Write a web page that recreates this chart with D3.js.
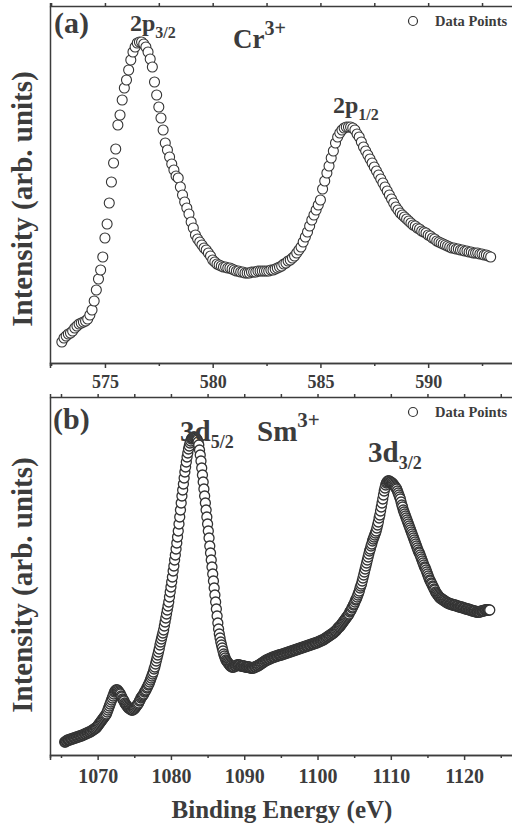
<!DOCTYPE html>
<html><head><meta charset="utf-8">
<script src="https://cdn.jsdelivr.net/npm/d3@7"></script>
<style>
body{margin:0;background:#fff}
svg{display:block}
text{font-family:"Liberation Serif","Times New Roman",serif;font-weight:bold;fill:#3c3c3c}
</style>
</head><body>
<svg id="chart" width="512" height="827"></svg>
<script>
// ---------- DATA ----------
// Panel (a): Cr 2p, energy grid start/step (eV), intensities (arb. units)
const crStart = 573.0, crStep = 0.1;
const crIntensity = [
21,25,27,29,30,32,35,37,39,40,
41,42,44,48,53,62,73,84,93,106,
125,139,160,181,200,214,238,248,263,275,
283,293,303,311,316,320,321,321,319,316,
311,304,296,281,268,256,245,233,220,213,
206,199,193,187,185,176,168,161,155,149,
141,135,128,124,121,118,115,113,110,107,
103,101,99,98,97,96,96,95,95,94,
93,92,92,91,91,90,90,90,91,91,
91,92,92,92,92,92,92,93,93,94,
95,96,97,99,100,102,103,105,107,110,
113,116,121,126,131,137,143,148,153,158,
163,174,182,190,197,205,212,220,226,230,
233,235,236,236,236,235,233,229,226,221,
216,212,208,204,200,196,192,188,184,180,
176,172,168,164,160,156,153,150,148,146,
144,142,140,138,137,135,134,132,131,130,
128,127,125,124,122,121,120,119,118,117,
116,115,115,114,114,113,113,112,112,111,
111,110,110,110,109,109,108,108,107,106
];
// Panel (b): Sm 3d
const smStart = 1065.5, smStep = 0.1;
const smIntensity = [
13,13,14,14,15,
15,15,15,16,16,16,16,17,17,17,
17,18,18,18,18,19,19,19,19,20,
20,20,21,21,21,22,22,22,23,23,
23,24,24,25,25,26,26,27,27,28,
29,30,31,32,33,34,35,36,37,38,
39,40,41,43,45,47,49,51,53,55,
57,59,61,63,64,65,65,65,64,63,
62,61,59,58,56,55,54,52,51,50,
49,48,47,47,46,46,45,45,45,46,
46,47,48,49,50,51,52,54,55,57,
58,59,60,61,63,64,65,67,68,70,
71,73,75,77,79,81,83,86,88,91,
94,97,100,103,106,110,113,116,119,122,
125,129,133,137,141,145,149,153,158,163,
168,173,178,184,189,195,200,206,212,218,
224,231,238,245,252,259,265,271,277,283,
288,293,298,302,306,309,312,314,316,317,
317,318,318,317,317,316,315,313,310,305,
300,294,287,280,273,266,259,252,245,238,
231,224,217,209,202,195,188,181,174,167,
160,153,146,139,132,126,121,117,113,110,
107,104,101,99,97,95,94,93,92,91,
90,89,89,88,88,88,88,89,89,89,
90,90,90,90,90,89,89,89,89,89,
89,88,88,88,88,88,88,88,87,87,
87,87,87,87,88,88,88,89,89,89,
90,90,91,91,92,92,93,93,94,94,
95,95,95,96,96,96,97,97,97,98,
98,98,98,99,99,99,99,100,100,100,
100,100,101,101,101,101,102,102,102,102,
103,103,103,103,104,104,104,104,105,105,
105,105,106,106,106,106,107,107,107,107,
108,108,108,108,109,109,109,109,110,110,
110,110,111,111,111,111,112,112,112,112,
113,113,113,114,114,114,115,115,115,116,
116,117,117,118,118,119,119,120,120,121,
121,122,122,123,124,124,125,126,127,128,
128,129,130,131,132,133,134,135,136,137,
138,139,140,141,143,144,145,147,148,150,
151,153,155,156,158,160,162,164,167,169,
171,174,177,180,183,186,189,192,195,198,
201,204,206,209,211,214,216,218,220,222,
224,227,230,233,237,240,244,248,252,256,
260,264,267,270,272,273,274,274,274,273,
273,272,272,271,270,269,268,267,266,264,
262,260,258,256,253,250,248,245,243,241,
239,237,235,233,231,229,227,225,223,221,
219,217,215,213,211,209,207,205,203,202,
200,198,196,194,192,190,188,187,185,183,
181,179,177,175,174,172,171,169,168,166,
165,163,162,161,160,159,158,157,157,156,
156,155,155,154,154,153,153,152,152,152,
151,151,151,151,150,150,150,150,150,149,
149,149,149,148,148,148,148,148,147,147,
147,147,146,146,146,146,146,145,145,145,
145,144,144,144,144,144,143,143,143,143,
143,143,143,144,144,144,144,144,145,145,
145,145,145,145,145,145
];
const crMajorTicks = [575, 580, 585, 590];
const crMinorTicks = [572.5, 577.5, 582.5, 587.5, 592.5];
const smMajorTicks = [1070, 1080, 1090, 1100, 1110, 1120];
const smMinorTicks = [1065, 1075, 1085, 1095, 1105, 1115, 1125];
const legendLabel = "Data Points";
const xTitle = "Binding Energy (eV)";
const yTitle = "Intensity (arb. units)";

// ---------- DRAW ----------
const svg = d3.select("#chart");
const axisColor = "#3c3c3c";
const serif = '"Liberation Serif","Times New Roman",serif';

function panel(cfg) {
  const x = d3.scaleLinear().domain(cfg.xDomain).range([cfg.left, cfg.right]);
  const y = d3.scaleLinear().domain(cfg.yDomain).range([cfg.bottom, cfg.top]);
  const g = svg.append("g");
  const pts = cfg.values.map((v, i) => ({e: cfg.start + i * cfg.step, v}));

  // points
  g.append("g").selectAll("circle").data(pts).join("circle")
    .attr("cx", d => x(d.e)).attr("cy", d => y(d.v)).attr("r", 5)
    .attr("fill", "#fff").attr("stroke", "#333").attr("stroke-width", cfg.sw);

  // bottom axis major
  const ax = g.append("g").attr("transform", `translate(0,${cfg.bottom})`)
    .call(d3.axisBottom(x).tickValues(cfg.major).tickSize(5).tickPadding(cfg.pad).tickFormat(d3.format("d")));
  ax.attr("font-family", serif).attr("font-size", cfg.tickFont).attr("font-weight", "bold");
  ax.selectAll("text").attr("font-size", cfg.tickFont).attr("font-weight", "bold")
    .style("font-family", serif).style("font-weight", "bold").style("fill", axisColor);
  g.append("g").attr("transform", `translate(0,${cfg.bottom})`)
    .call(d3.axisBottom(x).tickValues(cfg.minor).tickSize(3).tickFormat(""));
  // top axis (mirror)
  g.append("g").attr("transform", `translate(0,${cfg.top})`)
    .call(d3.axisTop(x).tickValues(cfg.major.concat(cfg.minor)).tickSize(3).tickFormat(""));
  // left axis line
  g.append("g").attr("transform", `translate(${cfg.left},0)`)
    .call(d3.axisLeft(y).tickValues([]).tickSizeOuter(0));

  g.selectAll(".domain, .tick line").attr("stroke", axisColor).attr("stroke-width", 1.5);

  // legend
  g.append("circle").attr("cx", 413).attr("cy", cfg.top + 15).attr("r", 4.5)
    .attr("fill", "#fff").attr("stroke", "#333").attr("stroke-width", 1.2);
  g.append("text").attr("x", 435).attr("y", cfg.top + 20).attr("font-size", 14.5).text(legendLabel);

  // y title
  g.append("text").attr("transform", `translate(32,${cfg.yTitleY}) rotate(-90)`)
    .attr("text-anchor", "middle").attr("font-size", 29).text(yTitle);
  return g;
}

const ga = panel({xDomain: [572.45, 595], yDomain: [0, 357], left: 50, right: 535.9, top: 6, bottom: 363,
  values: crIntensity, start: crStart, step: crStep, major: crMajorTicks, minor: crMinorTicks,
  tickFont: 18, pad: 7, yTitleY: 199, sw: 1.1});
const gb = panel({xDomain: [1063.5, 1130], yDomain: [0, 358], left: 50, right: 537.4, top: 397, bottom: 755,
  values: smIntensity, start: smStart, step: smStep, major: smMajorTicks, minor: smMinorTicks,
  tickFont: 20, pad: 9, yTitleY: 585, sw: 1.3});

function label(g, x, y, size, main, small, smallSize, dy) {
  const t = g.append("text").attr("x", x).attr("y", y).attr("font-size", size);
  t.append("tspan").text(main);
  if (small) t.append("tspan").attr("font-size", smallSize).attr("dy", dy).text(small);
}
label(ga, 54, 33, 30, "(a)");
label(ga, 130, 31, 24, "2p", "3/2", 16, 7);
label(ga, 233, 48, 27, "Cr", "3+", 20, -13);
label(ga, 333, 113, 24, "2p", "1/2", 16, 7);
label(gb, 53, 429, 30, "(b)");
label(gb, 180, 441, 29, "3d", "5/2", 18, 7);
label(gb, 257, 441, 29, "Sm", "3+", 21, -14);
label(gb, 368, 462, 29, "3d", "3/2", 18, 7);

svg.append("text").attr("x", 282).attr("y", 818).attr("text-anchor", "middle")
  .attr("font-size", 25).text(xTitle);
</script>
</body></html>
